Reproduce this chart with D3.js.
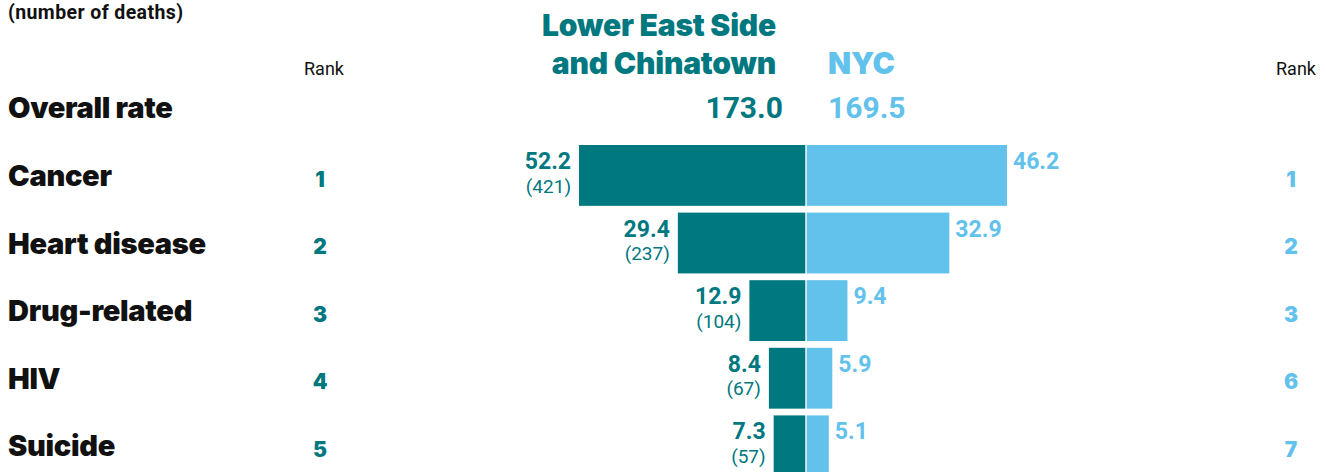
<!DOCTYPE html>
<html>
<head>
<meta charset="utf-8">
<script src="https://cdn.jsdelivr.net/npm/d3@7"></script>
<style>
  html, body { margin: 0; padding: 0; background: #fff; }
  svg { display: block; }
</style>
</head>
<body>
<svg id="chart" width="1326" height="472"></svg>
<script>
// Leading causes of death: neighborhood vs. citywide rates
const causes      = ["Cancer", "Heart disease", "Drug-related", "HIV", "Suicide"];
const localRates  = [52.2, 29.4, 12.9, 8.4, 7.3];
const localDeaths = [421, 237, 104, 67, 57];
const cityRates   = [46.2, 32.9, 9.4, 5.9, 5.1];
const localRanks  = [1, 2, 3, 4, 5];
const cityRanks   = [1, 2, 3, 6, 7];
const localName   = ["Lower East Side", "and Chinatown"];
const cityName    = "NYC";
const overallLocal = 173.0;
const overallCity  = 169.5;

const TEAL = "#00787f";
const SKY  = "#62c2ec";
const LABEL_FONT = "Inter, 'Libre Franklin', 'DejaVu Sans', sans-serif";
const NUM_FONT = "Roboto, 'Liberation Sans', sans-serif";

const svg = d3.select("#chart");

const rows = causes.map((c, i) => ({
  cause: c, local: localRates[i], deaths: localDeaths[i],
  city: cityRates[i], lr: localRanks[i], cr: cityRanks[i]
}));

// Row positions
const step = 67.6;
const y = d3.scaleBand()
  .domain(causes)
  .range([145 - 0.05 * step, 145 - 0.05 * step + causes.length * step])
  .paddingInner(0.1)
  .paddingOuter(0.05);

// Bars grow outward from a shared centre line
const pxPerUnit = 4.335;
const xLeft  = d3.scaleLinear().domain([0, 60]).range([805.3, 805.3 - 60 * pxPerUnit]);
const xRight = d3.scaleLinear().domain([0, 60]).range([806.7, 806.7 + 60 * pxPerUnit]);

// Subtitle
svg.append("text")
  .attr("x", 8).attr("y", 18.5)
  .attr("font-family", NUM_FONT).attr("font-weight", 700).attr("font-size", 19.5)
  .attr("letter-spacing", 0.4)
  .attr("fill", "#111")
  .text("(number of deaths)");

// Column headers
const header = svg.append("g");
header.selectAll("text.local")
  .data(localName)
  .join("text")
  .attr("class", "local")
  .attr("x", 776).attr("y", (d, i) => 36 + i * 38)
  .attr("text-anchor", "end")
  .attr("font-family", LABEL_FONT).attr("font-weight", 900).attr("font-size", 30)
  .attr("letter-spacing", -0.2)
  .attr("fill", TEAL)
  .text(d => d);

header.append("text")
  .attr("x", 828).attr("y", 74)
  .attr("font-family", LABEL_FONT).attr("font-weight", 900).attr("font-size", 30)
  .attr("letter-spacing", -0.2)
  .attr("fill", SKY)
  .text(cityName);

[["Rank", 324], ["Rank", 1296]].forEach(([t, x]) => {
  svg.append("text")
    .attr("x", x).attr("y", 75)
    .attr("text-anchor", "middle")
    .attr("font-family", NUM_FONT).attr("font-size", 18)
    .attr("fill", "#111")
    .text(t);
});

// Overall rate row
svg.append("text")
  .attr("x", 8).attr("y", 118)
  .attr("font-family", LABEL_FONT).attr("font-weight", 900).attr("font-size", 29)
  .attr("letter-spacing", -0.3)
  .attr("fill", "#111")
  .text("Overall rate");

svg.append("text")
  .attr("x", 783).attr("y", 118)
  .attr("text-anchor", "end")
  .attr("font-family", NUM_FONT).attr("font-weight", 700).attr("font-size", 30)
  .attr("fill", TEAL)
  .text(overallLocal.toFixed(1));

svg.append("text")
  .attr("x", 828).attr("y", 118)
  .attr("font-family", NUM_FONT).attr("font-weight", 700).attr("font-size", 30)
  .attr("fill", SKY)
  .text(overallCity.toFixed(1));

// Cause rows
const row = svg.append("g").selectAll("g.row")
  .data(rows)
  .join("g")
  .attr("class", "row");

row.append("text")
  .attr("x", 8)
  .attr("y", d => y(d.cause) + 41)
  .attr("font-family", LABEL_FONT).attr("font-weight", 900).attr("font-size", 29)
  .attr("letter-spacing", -0.3)
  .attr("fill", "#111")
  .text(d => d.cause);

row.append("text")
  .attr("x", 320)
  .attr("y", d => y(d.cause) + 41.5)
  .attr("text-anchor", "middle")
  .attr("font-family", LABEL_FONT).attr("font-weight", 900).attr("font-size", 21)
  .attr("fill", TEAL)
  .text(d => d.lr);

row.append("text")
  .attr("x", 1291)
  .attr("y", d => y(d.cause) + 41.5)
  .attr("text-anchor", "middle")
  .attr("font-family", LABEL_FONT).attr("font-weight", 900).attr("font-size", 21)
  .attr("fill", SKY)
  .text(d => d.cr);

row.append("rect")
  .attr("x", d => xLeft(d.local))
  .attr("y", d => y(d.cause))
  .attr("width", d => xLeft(0) - xLeft(d.local))
  .attr("height", y.bandwidth())
  .attr("fill", TEAL);

row.append("rect")
  .attr("x", xRight(0))
  .attr("y", d => y(d.cause))
  .attr("width", d => xRight(d.city) - xRight(0))
  .attr("height", y.bandwidth())
  .attr("fill", SKY);

row.append("text")
  .attr("x", d => xLeft(d.local) - 8)
  .attr("y", d => y(d.cause) + 24)
  .attr("text-anchor", "end")
  .attr("font-family", NUM_FONT).attr("font-weight", 700).attr("font-size", 23)
  .attr("fill", TEAL)
  .text(d => d.local.toFixed(1));

row.append("text")
  .attr("x", d => xLeft(d.local) - 8)
  .attr("y", d => y(d.cause) + 47.5)
  .attr("text-anchor", "end")
  .attr("font-family", NUM_FONT).attr("font-size", 19)
  .attr("fill", TEAL)
  .text(d => `(${d.deaths})`);

row.append("text")
  .attr("x", d => xRight(d.city) + 6)
  .attr("y", d => y(d.cause) + 24)
  .attr("font-family", NUM_FONT).attr("font-weight", 700).attr("font-size", 23)
  .attr("fill", SKY)
  .text(d => d.city.toFixed(1));
</script>
</body>
</html>
